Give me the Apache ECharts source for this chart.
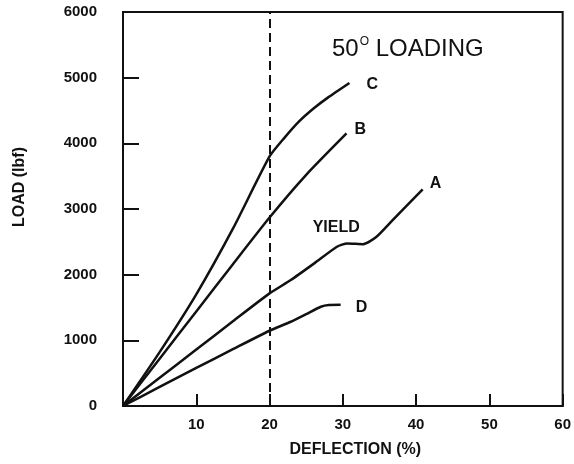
<!DOCTYPE html>
<html>
<head>
<meta charset="utf-8">
<script src="https://cdn.jsdelivr.net/npm/echarts@6/dist/echarts.min.js"></script>
<style>
  html, body { margin: 0; padding: 0; background: #fff; }
  #chart { width: 574px; height: 464px; }
</style>
</head>
<body>
<div id="chart"></div>
<script>
// Load–deflection curves, 50° loading
const deflA = [0, 5, 10, 15, 20, 22.9, 26.1, 29.2, 30.6, 32.8, 34.6, 36.8, 40.9];
const loadA = [0, 430, 860, 1290, 1715, 1918, 2172, 2425, 2476, 2465, 2577, 2830, 3300];

const deflB = [0, 5, 10, 15, 20, 25, 30.5];
const loadB = [0, 720, 1440, 2160, 2870, 3520, 4150];

const deflC = [0, 5, 10, 15, 20, 22, 24, 26, 28, 30.9];
const loadC = [0, 820, 1700, 2700, 3800, 4080, 4330, 4530, 4700, 4920];

const deflD = [0, 5, 10, 15, 20, 22.9, 25, 27, 28.1, 29.7];
const loadD = [0, 290, 580, 865, 1146, 1283, 1400, 1511, 1537, 1540];

const yieldPoint = [29.1, 2720];
const refDeflection = 20;

const xTicks = { min: 0, max: 60, step: 10 };
const yTicks = { min: 0, max: 6000, step: 1000 };

const ink = '#111';
const font = 'Liberation Sans, Arial, Helvetica, sans-serif';

function pairs(xs, ys) { return xs.map((x, i) => [x, ys[i]]); }

function curve(name, xs, ys, labelOffset) {
  return {
    name: name,
    type: 'line',
    data: pairs(xs, ys),
    smooth: 0.2,
    showSymbol: false,
    symbol: 'none',
    lineStyle: { color: ink, width: 2.5 },
    endLabel: {
      show: true,
      formatter: name,
      color: ink,
      fontFamily: font,
      fontWeight: 'bold',
      fontSize: 16,
      distance: 0,
      offset: labelOffset
    },
    silent: true,
    z: 3
  };
}

const seriesA = curve('A', deflA, loadA, [7, -6]);
seriesA.markPoint = {
  symbol: 'circle',
  symbolSize: 0,
  silent: true,
  data: [{ coord: yieldPoint }],
  label: {
    show: true,
    formatter: 'YIELD',
    position: 'inside',
    color: ink,
    fontFamily: font,
    fontWeight: 'bold',
    fontSize: 16
  }
};
seriesA.markLine = {
  symbol: ['none', 'none'],
  silent: true,
  label: { show: false },
  lineStyle: { color: ink, width: 2, type: [9, 5] },
  data: [{ xAxis: refDeflection }]
};

const chart = echarts.init(document.getElementById('chart'), null, { renderer: 'canvas' });

chart.setOption({
  animation: false,
  backgroundColor: '#fff',
  title: {
    text: '{n|50}{s|O}{n| LOADING}',
    left: 327,
    top: 31,
    textStyle: {
      fontWeight: 'normal',
      rich: {
        n: { fontFamily: font, fontSize: 24, fontWeight: 'normal', color: ink, lineHeight: 26 },
        s: { fontFamily: font, fontSize: 12, fontWeight: 'normal', color: ink, verticalAlign: 'top', lineHeight: 26, padding: [0, 0, 10, 1] }
      }
    }
  },
  grid: {
    left: 123, right: 6, top: 12, bottom: 58,
    show: true, borderColor: ink, borderWidth: 2, backgroundColor: '#fff'
  },
  xAxis: {
    type: 'value',
    min: xTicks.min, max: xTicks.max, interval: xTicks.step,
    name: 'DEFLECTION (%)',
    nameLocation: 'middle',
    nameGap: 36,
    nameTextStyle: { fontFamily: font, fontWeight: 'bold', fontSize: 16, color: ink, padding: [0, 0, 0, 25] },
    axisLine: { show: true, lineStyle: { color: ink, width: 2 } },
    axisTick: { show: true, inside: true, length: 12, lineStyle: { color: ink, width: 2 } },
    axisLabel: {
      margin: 11,
      fontFamily: font, fontWeight: 'bold', fontSize: 15, color: ink,
      formatter: v => (v === 0 ? '' : String(v))
    },
    splitLine: { show: false }
  },
  yAxis: {
    type: 'value',
    min: yTicks.min, max: yTicks.max, interval: yTicks.step,
    name: 'LOAD (lbf)',
    nameLocation: 'middle',
    nameGap: 95,
    nameRotate: 90,
    nameTextStyle: { fontFamily: font, fontWeight: 'bold', fontSize: 16, color: ink, padding: [0, 0, 0, 44] },
    axisLine: { show: true, lineStyle: { color: ink, width: 2 } },
    axisTick: { show: true, inside: true, length: 16, lineStyle: { color: ink, width: 2 } },
    axisLabel: {
      margin: 26,
      fontFamily: font, fontWeight: 'bold', fontSize: 15, color: ink,
      formatter: v => String(v)
    },
    splitLine: { show: false }
  },
  series: [
    seriesA,
    curve('B', deflB, loadB, [8, -4]),
    curve('C', deflC, loadC, [17, 2]),
    curve('D', deflD, loadD, [15, 3])
  ]
});
</script>
</body>
</html>
